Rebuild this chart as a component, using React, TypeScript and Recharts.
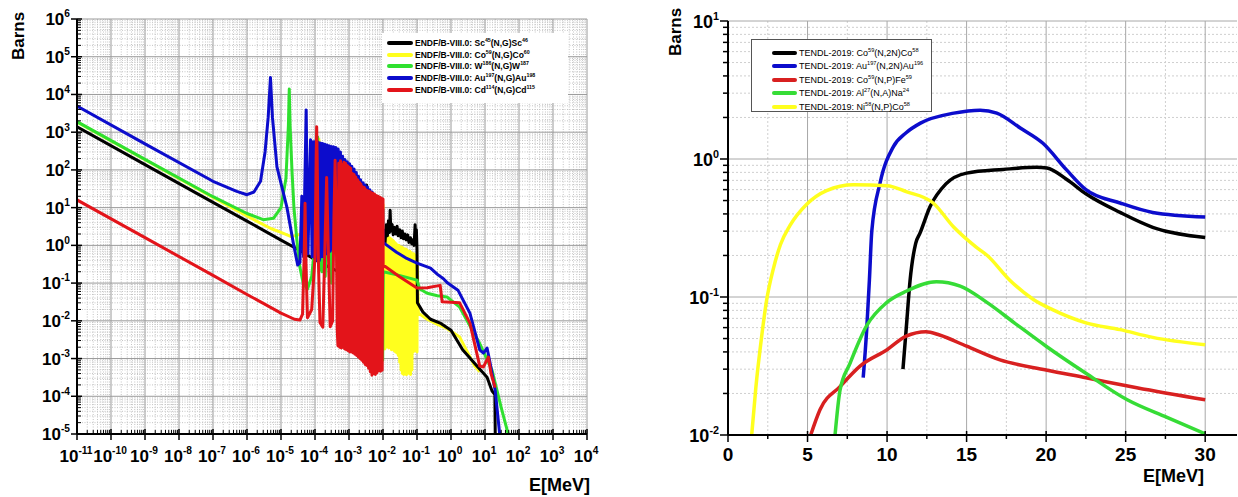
import React from "react";
import { LineChart, Line, XAxis, YAxis, CartesianGrid } from "recharts";

type Pt = [number, number];

const FONT = "'Liberation Sans', Arial, Helvetica, sans-serif";

// ---------- left panel: ENDF/B-VIII.0 (n,g) ----------
const leftXExps = [-11, -10, -9, -8, -7, -6, -5, -4, -3, -2, -1, 0, 1, 2, 3, 4];
const leftYExps = [-5, -4, -3, -2, -1, 0, 1, 2, 3, 4, 5, 6];
const decadeSteps = [2, 3, 4, 5, 6, 7, 8, 9];

const sc45: Pt[] = [
  [1e-11, 1380], [1e-9, 138], [1e-7, 13.8], [1e-6, 4.4], [1e-5, 1.38], [3e-5, 0.8], [6e-5, 0.55],
  [1e-4, 0.42], [2e-4, 0.3], [5e-4, 0.2], [1e-3, 0.15], [2e-3, 0.12], [3.1e-3, 0.1], [3.3e-3, 40],
  [3.5e-3, 0.08], [5e-3, 0.3], [7e-3, 0.5], [1e-2, 1.2],
  [1.05e-2, 2.5], [1.15e-2, 1.2], [1.25e-2, 3.5], [1.35e-2, 1.8], [1.45e-2, 4.5], [1.55e-2, 2.2],
  [1.62e-2, 8.5], [1.7e-2, 2.4], [1.85e-2, 3.6], [2.0e-2, 1.9], [2.2e-2, 3.0], [2.4e-2, 2.0],
  [2.6e-2, 3.2], [2.8e-2, 1.8], [3.1e-2, 2.6], [3.4e-2, 1.6], [3.7e-2, 2.4], [4.0e-2, 1.5],
  [4.4e-2, 2.0], [4.8e-2, 1.4], [5.3e-2, 1.9], [5.8e-2, 1.2], [6.4e-2, 1.6], [7.0e-2, 1.1],
  [7.6e-2, 1.4], [8.2e-2, 1.0], [8.8e-2, 3.5], [9.2e-2, 1.2], [9.6e-2, 2.6], [1.0e-1, 0.8],
  [1.03e-1, 0.03], [1.5e-1, 0.017], [2.5e-1, 0.011], [4.8e-1, 0.0087], [1, 0.0056], [2.2, 0.0017],
  [5.8, 6.3e-4], [11.5, 3.2e-4], [16, 1.4e-4], [19.5, 1.1e-4], [20, 1e-5],
];

const co59: Pt[] = [
  [1e-11, 1860], [1e-9, 186], [1e-7, 18.6], [1e-6, 6.0], [5e-6, 2.8], [1e-5, 2.2], [2e-5, 1.7],
  [4e-5, 2.0], [8e-5, 6], [1.1e-4, 80], [1.3e-4, 650], [1.5e-4, 60], [2e-4, 3], [4e-4, 0.6],
  [1e-3, 0.3], [3e-3, 0.2], [5e-3, 3], [5.5e-3, 0.05], [8e-3, 5], [9e-3, 0.02],
  [1.0e-2, 12], [1.04e-2, 2e-3], [1.09e-2, 3], [1.13e-2, 1.8e-3], [1.18e-2, 2.5], [1.23e-2, 2e-3],
  [1.29e-2, 2], [1.35e-2, 2.2e-3], [1.41e-2, 1.8], [1.48e-2, 1.9e-3], [1.55e-2, 1.6], [1.62e-2, 2e-3],
  [1.7e-2, 1.5], [1.78e-2, 1.7e-3], [1.86e-2, 1.4], [1.95e-2, 1.8e-3], [2.04e-2, 1.3], [2.14e-2, 1.6e-3],
  [2.24e-2, 1.2], [2.34e-2, 1.5e-3], [2.45e-2, 1.1], [2.57e-2, 1.4e-3], [2.69e-2, 1.0], [2.82e-2, 1.2e-3],
  [2.95e-2, 1.0], [3.1e-2, 8e-4], [3.24e-2, 0.9], [3.4e-2, 5e-4], [3.55e-2, 0.9], [3.72e-2, 4e-4],
  [3.9e-2, 0.85], [4.07e-2, 3.8e-4], [4.27e-2, 0.8], [4.47e-2, 4e-4], [4.68e-2, 0.8], [4.9e-2, 3.7e-4],
  [5.13e-2, 0.75], [5.37e-2, 4.2e-4], [5.62e-2, 0.7], [5.9e-2, 4e-4], [6.17e-2, 0.7], [6.46e-2, 3.8e-4],
  [6.76e-2, 0.65], [7.08e-2, 5e-4], [7.41e-2, 0.6], [7.76e-2, 1.5e-3], [8.13e-2, 0.6], [8.5e-2, 1.6e-3],
  [8.9e-2, 0.55], [9.3e-2, 1.8e-3], [9.7e-2, 0.5], [1.0e-1, 1.5e-3], [1.02e-1, 0.3],
  [1.1e-1, 0.016], [2e-1, 0.011], [4e-1, 0.008], [7.6e-1, 0.0063], [1.8, 0.0037], [5, 6.3e-4], [7, 4.5e-4],
];

const w186: Pt[] = [
  [1e-11, 1900], [1e-9, 190], [1e-7, 19.5], [1e-6, 7], [3e-6, 4.8], [6e-6, 5.2], [1e-5, 10],
  [1.4e-5, 60], [1.65e-5, 1500], [1.75e-5, 14000], [1.85e-5, 1500], [2.1e-5, 100], [2.4e-5, 10],
  [2.9e-5, 1.5], [3.5e-5, 0.3], [4.5e-5, 0.1], [6e-5, 0.07], [8e-5, 0.15], [1.0e-4, 1.2],
  [1.1e-4, 200], [1.2e-4, 750], [1.3e-4, 100], [1.4e-4, 0.3], [1.6e-4, 0.2], [1.8e-4, 300],
  [2e-4, 0.15], [2.5e-4, 200], [3e-4, 0.1], [4e-4, 100], [5e-4, 0.08], [7e-4, 60], [1e-3, 0.05],
  [1.5e-3, 30], [2e-3, 0.03], [3e-3, 20], [4e-3, 0.02], [6e-3, 10], [8e-3, 0.01], [9.5e-3, 15],
  [9.8e-3, 9e-4], [1.02e-2, 0.2], [3e-2, 0.16], [1e-1, 0.12], [1.2e-1, 0.07], [2e-1, 0.054],
  [4e-1, 0.046], [7.6e-1, 0.043], [1.8, 0.023], [7, 0.0025], [16, 5e-4], [30, 5e-5], [48, 1e-5],
];

const au197: Pt[] = [
  [1e-11, 4900], [1e-9, 490], [1e-7, 50], [5e-7, 27], [1e-6, 22], [1.6e-6, 26], [2.5e-6, 50],
  [3.4e-6, 300], [4.2e-6, 2500], [4.9e-6, 28000], [5.6e-6, 2500], [7.6e-6, 120], [1.5e-5, 10],
  [2.3e-5, 1.15], [3.1e-5, 0.3], [3.6e-5, 0.35], [4.1e-5, 20], [4.6e-5, 0.5], [5.5e-5, 3900],
  [6.2e-5, 0.6], [7.4e-5, 630], [8.2e-5, 0.5], [9e-5, 560], [9.8e-5, 0.45], [1.07e-4, 600],
  [1.15e-4, 0.4], [1.25e-4, 540], [1.35e-4, 0.4], [1.45e-4, 520], [1.56e-4, 0.5], [1.68e-4, 500],
  [1.8e-4, 0.5], [1.95e-4, 480], [2.1e-4, 0.6], [2.25e-4, 460], [2.4e-4, 0.6], [2.6e-4, 440],
  [2.8e-4, 0.7], [3e-4, 420], [3.25e-4, 0.8], [3.5e-4, 410], [3.8e-4, 0.8], [4.1e-4, 390],
  [4.4e-4, 0.9], [4.8e-4, 360], [5.2e-4, 1], [5.6e-4, 300], [6e-4, 1], [6.5e-4, 230], [7e-4, 1],
  [7.6e-4, 190], [8.2e-4, 1], [8.9e-4, 165], [9.6e-4, 1.2], [1.04e-3, 145], [1.12e-3, 1.2],
  [1.21e-3, 125], [1.3e-3, 1.2], [1.41e-3, 105], [1.52e-3, 1.3], [1.64e-3, 85], [1.77e-3, 1.3],
  [1.9e-3, 68], [2.05e-3, 1.3], [2.2e-3, 55], [2.4e-3, 1.4], [2.6e-3, 46], [2.8e-3, 1.4],
  [3e-3, 40], [3.25e-3, 1.5], [3.5e-3, 35], [3.8e-3, 1.5], [4.1e-3, 30], [4.4e-3, 1.5],
  [4.8e-3, 26], [5.2e-3, 1.5], [5.6e-3, 22], [6e-3, 1.5], [6.5e-3, 18], [7e-3, 1.4],
  [7.6e-3, 14], [8.2e-3, 1.4], [8.9e-3, 11], [9.5e-3, 1.3], [9.9e-3, 9],
  [1.0e-2, 1.2], [2.5e-2, 0.66], [5e-2, 0.45], [1e-1, 0.34], [2.5e-1, 0.25], [4e-1, 0.17],
  [6e-1, 0.13], [8e-1, 0.1], [1.6, 0.065], [3.6, 0.016], [7, 0.0017], [9, 0.0014], [11.5, 0.0019],
  [14, 8e-4], [20, 1.4e-4], [27, 1e-5],
];

const cd114: Pt[] = [
  [1e-11, 16], [1e-9, 1.6], [1e-7, 0.16], [1e-6, 0.05], [1e-5, 0.016], [2.5e-5, 0.011],
  [3.6e-5, 0.0105], [4.3e-5, 0.015], [4.8e-5, 0.5], [5.1e-5, 13], [5.4e-5, 0.4], [6e-5, 0.012],
  [8e-5, 0.02], [1.0e-4, 0.5], [1.08e-4, 200], [1.12e-4, 1400], [1.16e-4, 200], [1.25e-4, 0.5],
  [1.4e-4, 0.009], [1.7e-4, 0.0068], [2.0e-4, 2], [2.2e-4, 63], [2.4e-4, 2], [2.8e-4, 0.007],
  [3.3e-4, 0.01], [3.6e-4, 5], [3.9e-4, 180], [4.2e-4, 5], [4.5e-4, 0.006],
  [4.73e-4, 2.2e-3], [5.01e-4, 150], [5.31e-4, 2.0e-3], [5.62e-4, 175], [5.96e-4, 1.9e-3],
  [6.31e-4, 140], [6.68e-4, 2.0e-3], [7.08e-4, 160], [7.5e-4, 1.8e-3], [7.94e-4, 150],
  [8.41e-4, 1.7e-3], [8.91e-4, 130], [9.44e-4, 1.6e-3], [1e-3, 120], [1.06e-3, 1.5e-3],
  [1.12e-3, 110], [1.19e-3, 1.5e-3], [1.26e-3, 80], [1.33e-3, 1.4e-3], [1.41e-3, 75],
  [1.5e-3, 1.3e-3], [1.58e-3, 65], [1.68e-3, 1.2e-3], [1.78e-3, 55], [1.88e-3, 1.1e-3],
  [2.0e-3, 48], [2.11e-3, 1.0e-3], [2.24e-3, 42], [2.37e-3, 9e-4], [2.51e-3, 36], [2.66e-3, 8e-4],
  [2.82e-3, 34], [2.99e-3, 7e-4], [3.16e-3, 30], [3.35e-3, 6.5e-4], [3.55e-3, 28], [3.76e-3, 5.5e-4],
  [3.98e-3, 27], [4.22e-3, 4.5e-4], [4.47e-3, 25], [4.73e-3, 3.6e-4], [5.01e-3, 24], [5.31e-3, 4e-4],
  [5.62e-3, 23], [5.96e-3, 3.8e-4], [6.31e-3, 21], [6.68e-3, 4.2e-4], [7.08e-3, 20], [7.5e-3, 4.8e-4],
  [7.94e-3, 19], [8.41e-3, 4.6e-4], [8.91e-3, 18], [9.44e-3, 4.9e-4], [1.0e-2, 17],
  [1.01e-2, 0.3], [3e-2, 0.15], [1e-1, 0.074], [2e-1, 0.075], [4.8e-1, 0.087], [5.5e-1, 0.032],
  [1.8, 0.03], [3.6, 0.0087], [7, 6.3e-4], [9, 6e-4], [12.6, 1.1e-3], [15, 4e-4], [20, 1.7e-4],
];

// ---------- right panel: TENDL-2019 threshold reactions ----------
const rightXMajor = [0, 5, 10, 15, 20, 25, 30];
const rightXMinor = [2.5, 7.5, 12.5, 17.5, 22.5, 27.5];
const rightYExps = [-2, -1, 0, 1];

const co59n2n: Pt[] = [
  [11.0, 0.03], [11.2, 0.058], [11.45, 0.133], [11.8, 0.245], [12.07, 0.29], [12.7, 0.45],
  [13.7, 0.66], [15, 0.79], [17.3, 0.84], [19.4, 0.87], [20.05, 0.86], [21.3, 0.71], [22.5, 0.56],
  [24.65, 0.41], [26.7, 0.32], [30, 0.27],
];
const au197n2n: Pt[] = [
  [8.5, 0.026], [8.72, 0.058], [8.89, 0.133], [9.04, 0.3], [9.56, 0.67], [10.4, 1.23], [11.2, 1.55],
  [12.1, 1.82], [14.2, 2.15], [15.85, 2.26], [16.9, 2.15], [18.4, 1.67], [19.8, 1.3], [21.3, 0.83],
  [22.5, 0.6], [24.65, 0.48], [26.7, 0.41], [30, 0.38],
];
const co59np: Pt[] = [
  [5.2, 0.01], [5.79, 0.0153], [7.04, 0.0224], [8.3, 0.0316], [10, 0.0415], [11.2, 0.052],
  [12.45, 0.056], [13.3, 0.053], [15, 0.044], [17.1, 0.035], [20, 0.0296], [22.5, 0.026],
  [25.7, 0.022], [30, 0.018],
];
const al27na: Pt[] = [
  [6.73, 0.01], [7.04, 0.021], [7.67, 0.033], [8.72, 0.062], [9.97, 0.091], [11.2, 0.11],
  [13.1, 0.129], [14.6, 0.12], [16.3, 0.091], [18, 0.065], [20, 0.044], [22.5, 0.028],
  [25.1, 0.018], [27.6, 0.0134], [30, 0.0102],
];
const ni58np: Pt[] = [
  [1.49, 0.01], [1.75, 0.022], [2.1, 0.05], [2.43, 0.095], [2.85, 0.16], [3.3, 0.24], [3.9, 0.33],
  [4.95, 0.47], [6.2, 0.59], [7.9, 0.65], [10, 0.64], [11.2, 0.58], [12.9, 0.48], [14.2, 0.32],
  [15.6, 0.23], [16.3, 0.2], [17.7, 0.133], [19.2, 0.096], [20.4, 0.081], [22.5, 0.065],
  [24.65, 0.058], [26.7, 0.051], [30, 0.045],
];

const BLACK = "#000000";
const YELLOW = "#ffff1e";
const GREEN = "#2fe02f";
const BLUE = "#0c0ccc";
const RED = "#e3141a";

// legend rows: [color, prefix, el1, mass1, rest, mass2]
const leftLegend: [string, string, string, string, string, string][] = [
  [BLACK, "ENDF/B-VIII.0: ", "Sc", "45", "(N,G)Sc", "46"],
  [YELLOW, "ENDF/B-VIII.0: ", "Co", "59", "(N,G)Co", "60"],
  [GREEN, "ENDF/B-VIII.0: ", "W", "186", "(N,G)W", "187"],
  [BLUE, "ENDF/B-VIII.0: ", "Au", "197", "(N,G)Au", "198"],
  [RED, "ENDF/B-VIII.0: ", "Cd", "114", "(N,G)Cd", "115"],
];
const rightLegend: [string, string, string, string, string, string][] = [
  [BLACK, "TENDL-2019: ", "Co", "59", "(N,2N)Co", "58"],
  [BLUE, "TENDL-2019: ", "Au", "197", "(N,2N)Au", "196"],
  ["#d82020", "TENDL-2019: ", "Co", "59", "(N,P)Fe", "59"],
  ["#36dc36", "TENDL-2019: ", "Al", "27", "(N,A)Na", "24"],
  [YELLOW, "TENDL-2019: ", "Ni", "58", "(N,P)Co", "58"],
];

const rows = (pts: Pt[]) => pts.map(([x, y]) => ({ x, y }));
const isDecade = (v: number) => {
  const l = Math.log10(v);
  return Math.abs(l - Math.round(l)) < 1e-6;
};

const leftXMajor = leftXExps.map((e) => Math.pow(10, e));
const leftXMinor = leftXExps.slice(0, -1).flatMap((e) => decadeSteps.map((m) => m * Math.pow(10, e)));
const leftYMajor = leftYExps.map((e) => Math.pow(10, e));
const leftYMinor = leftYExps.slice(0, -1).flatMap((e) => decadeSteps.map((m) => m * Math.pow(10, e)));
const rightYMajor = rightYExps.map((e) => Math.pow(10, e));
const rightYMinor = rightYExps.slice(0, -1).flatMap((e) => decadeSteps.map((m) => m * Math.pow(10, e)));

function Pow({ x, y, e, size, anchor }: { x: number; y: number; e: number; size: number; anchor: string }) {
  return (
    <text x={x} y={y} textAnchor={anchor} fontFamily={FONT} fontWeight="bold" fontSize={size} fill="#000">
      10
      <tspan fontSize={size * 0.6} dy={-size * 0.45}>
        {e}
      </tspan>
    </text>
  );
}

function LeftXTick(props: any) {
  const { x, y, payload } = props;
  if (!isDecade(payload.value)) return <line x1={x} x2={x} y1={y} y2={y - 4} stroke="#000" />;
  return (
    <g>
      <line x1={x} x2={x} y1={y - 5} y2={y + 6} stroke="#000" strokeWidth={1.5} />
      <Pow x={x - 1} y={y + 28} e={Math.round(Math.log10(payload.value))} size={17} anchor="middle" />
    </g>
  );
}

function LeftYTick(props: any) {
  const { x, y, payload } = props;
  if (!isDecade(payload.value)) return <line x1={x} x2={x + 4} y1={y} y2={y} stroke="#000" />;
  return (
    <g>
      <line x1={x - 6} x2={x + 5} y1={y} y2={y} stroke="#000" strokeWidth={1.5} />
      <Pow x={x - 7} y={y + 6} e={Math.round(Math.log10(payload.value))} size={17} anchor="end" />
    </g>
  );
}

function RightXTick(props: any) {
  const { x, y, payload } = props;
  if (payload.value % 5 !== 0) return <line x1={x} x2={x} y1={y} y2={y + 4} stroke="#000" strokeWidth={1.5} />;
  return (
    <g>
      <line x1={x} x2={x} y1={y - 4} y2={y + 7} stroke="#000" strokeWidth={1.5} />
      <text x={x} y={y + 26} textAnchor="middle" fontFamily={FONT} fontWeight="bold" fontSize={19} fill="#000">
        {payload.value}
      </text>
    </g>
  );
}

function RightYTick(props: any) {
  const { x, y, payload } = props;
  if (!isDecade(payload.value)) return <line x1={x - 5} x2={x} y1={y} y2={y} stroke="#000" strokeWidth={1.5} />;
  return (
    <g>
      <line x1={x - 8} x2={x} y1={y} y2={y} stroke="#000" strokeWidth={1.5} />
      <Pow x={x - 9} y={y + 7} e={Math.round(Math.log10(payload.value))} size={18} anchor="end" />
    </g>
  );
}

function LegendBox({
  items, left, top, width, height, rowH, firstY, lineX, lineW, fontSize, bold, border,
}: {
  items: [string, string, string, string, string, string][];
  left: number; top: number; width: number; height: number; rowH: number; firstY: number;
  lineX: number; lineW: number; fontSize: number; bold: boolean; border: boolean;
}) {
  const sup = { fontSize: fontSize * 0.62, verticalAlign: "super", lineHeight: 0 } as React.CSSProperties;
  return (
    <div
      style={{
        position: "absolute", left, top, width, height, background: "#fff",
        border: border ? "1px solid #555" : "none", boxSizing: "border-box",
      }}
    >
      {items.map(([color, pre, a, am, b, bm], i) => (
        <div
          key={i}
          style={{
            position: "absolute", left: lineX, top: firstY + i * rowH - 6, height: 12,
            display: "flex", alignItems: "center", whiteSpace: "nowrap",
            fontFamily: FONT, fontSize, fontWeight: bold ? "bold" : "normal", color: "#000",
          }}
        >
          <span style={{ display: "inline-block", width: lineW, height: 4, background: color, borderRadius: 2, marginRight: 2 }} />
          <span>
            {pre}
            {a}
            <span style={sup}>{am}</span>
            {b}
            <span style={sup}>{bm}</span>
          </span>
        </div>
      ))}
    </div>
  );
}

const titleStyle: React.CSSProperties = {
  position: "absolute", fontFamily: FONT, fontWeight: "bold", fontSize: 17, color: "#000", whiteSpace: "nowrap",
};

export default function App() {
  const leftSeries: [Pt[], string][] = [
    [co59, YELLOW], [sc45, BLACK], [w186, GREEN], [au197, BLUE], [cd114, RED],
  ];
  const rightSeries: [Pt[], string][] = [
    [co59n2n, BLACK], [au197n2n, BLUE], [co59np, "#d82020"], [al27na, "#36dc36"], [ni58np, YELLOW],
  ];
  return (
    <div style={{ position: "absolute", left: 0, top: 0, width: 1238, height: 497, background: "#fff", overflow: "hidden" }}>
      <div style={{ position: "absolute", left: 0, top: 0 }}>
        <LineChart width={640} height={497} margin={{ top: 19, right: 53, left: 0, bottom: 0 }}>
          <CartesianGrid verticalValues={leftXMinor} horizontalValues={leftYMinor} stroke="#c4c4c4" strokeDasharray="1 1.5" />
          <CartesianGrid verticalValues={leftXMajor} horizontalValues={leftYMajor} stroke="#9a9a9a" />
          <XAxis
            type="number" dataKey="x" scale="log" domain={[1e-11, 1e4]} allowDataOverflow
            ticks={[...leftXMajor, ...leftXMinor].sort((a, b) => a - b)} interval={0}
            tick={<LeftXTick />} tickLine={false} tickSize={0} tickMargin={0} height={63}
            axisLine={{ stroke: "#000", strokeWidth: 2 }}
          />
          <YAxis
            type="number" scale="log" domain={[1e-5, 1e6]} allowDataOverflow
            ticks={[...leftYMajor, ...leftYMinor].sort((a, b) => a - b)} interval={0}
            tick={<LeftYTick />} tickLine={false} tickSize={0} tickMargin={0} width={77}
            axisLine={{ stroke: "#000", strokeWidth: 2 }}
          />
          {leftSeries.map(([pts, color], i) => (
            <Line
              key={i} data={rows(pts)} dataKey="y" type="linear" stroke={color} strokeWidth={3}
              dot={false} isAnimationActive={false} strokeLinejoin="round"
            />
          ))}
        </LineChart>
      </div>

      <div style={{ position: "absolute", left: 640, top: 0 }}>
        <LineChart width={598} height={497} margin={{ top: 21, right: 1, left: 0, bottom: 0 }}>
          <CartesianGrid verticalValues={rightXMinor} horizontalValues={rightYMinor} stroke="#cfcfcf" strokeDasharray="2 2" />
          <CartesianGrid verticalValues={rightXMajor} horizontalValues={rightYMajor} stroke="#a8a8a8" />
          <XAxis
            type="number" dataKey="x" domain={[0, 32]} allowDataOverflow
            ticks={[...rightXMajor, ...rightXMinor].sort((a, b) => a - b)} interval={0}
            tick={<RightXTick />} tickLine={false} tickSize={0} tickMargin={0} height={62}
            axisLine={{ stroke: "#000", strokeWidth: 2 }}
          />
          <YAxis
            type="number" scale="log" domain={[0.01, 10]} allowDataOverflow
            ticks={[...rightYMajor, ...rightYMinor].sort((a, b) => a - b)} interval={0}
            tick={<RightYTick />} tickLine={false} tickSize={0} tickMargin={0} width={88}
            axisLine={{ stroke: "#000", strokeWidth: 2 }}
          />
          {rightSeries.map(([pts, color], i) => (
            <Line
              key={i} data={rows(pts)} dataKey="y" type="monotone" stroke={color} strokeWidth={3.5}
              dot={false} isAnimationActive={false}
            />
          ))}
        </LineChart>
      </div>

      <LegendBox
        items={leftLegend} left={382} top={33} width={186} height={70} rowH={11.65} firstY={10}
        lineX={5} lineW={26} fontSize={8.5} bold border={false}
      />
      <LegendBox
        items={rightLegend} left={751} top={39} width={181} height={73} rowH={13.6} firstY={12.5}
        lineX={20} lineW={25} fontSize={9} bold={false} border
      />

      <div style={{ ...titleStyle, left: 19, top: 36, transform: "translate(-50%, -50%) rotate(-90deg)" }}>Barns</div>
      <div style={{ ...titleStyle, left: 676, top: 32, transform: "translate(-50%, -50%) rotate(-90deg)" }}>Barns</div>
      <div style={{ ...titleStyle, left: 529, top: 475, fontSize: 18 }}>E[MeV]</div>
      <div style={{ ...titleStyle, left: 1143, top: 466, fontSize: 18 }}>E[MeV]</div>
    </div>
  );
}
